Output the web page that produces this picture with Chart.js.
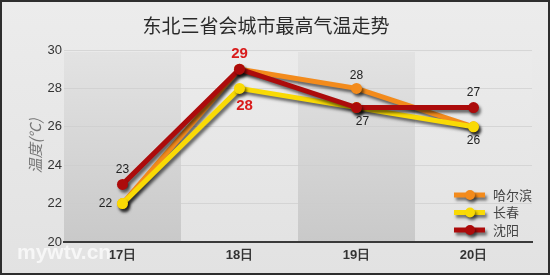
<!DOCTYPE html>
<html>
<head>
<meta charset="utf-8">
<script src="https://cdn.jsdelivr.net/npm/chart.js@4/dist/chart.umd.min.js"></script>
<style>
  html, body { margin: 0; padding: 0; background: #e6e6e6; }
  #wrap { width: 550px; height: 275px; }
</style>
</head>
<body>
<div id="wrap"><canvas id="tempChart" width="550" height="275"></canvas></div>
<script>
// data
const days = ['17日', '18日', '19日', '20日'];
const cities = ['哈尔滨', '长春', '沈阳'];
const harbin = [22, 29, 28, 26];
const changchun = [22, 28, 27, 26];
const shenyang = [23, 29, 27, 27];
const yMin = 20, yMax = 30, yStep = 2;

const colors = ['#f38b1c', '#f9da05', '#ac0b0b'];

// which values get a number drawn next to them (dataset, index, dx, dy, style)
const labelSpecs = [
    { ds: 2, i: 0, dx: 0, dy: -15, color: '#222', bold: false },
    { ds: 1, i: 0, dx: -17, dy: 0, color: '#222', bold: false },
    { ds: 2, i: 1, dx: 0, dy: -15, color: '#d91a1a', bold: true },
    { ds: 1, i: 1, dx: 5, dy: 17, color: '#d91a1a', bold: true },
    { ds: 0, i: 2, dx: 0, dy: -13, color: '#222', bold: false },
    { ds: 2, i: 2, dx: 6, dy: 14, color: '#222', bold: false },
    { ds: 2, i: 3, dx: 0, dy: -15, color: '#222', bold: false },
    { ds: 1, i: 3, dx: 0, dy: 14, color: '#222', bold: false }
];

const numFont = '"Liberation Sans", Arial, sans-serif';
const cjkFont = '"Noto Sans CJK SC", sans-serif';

const backdrop = {
    id: 'backdrop',
    beforeDraw(chart) {
        const { ctx, chartArea: a, scales: { x } } = chart;
        ctx.save();
        const bg = ctx.createLinearGradient(0, 0, 0, chart.height);
        bg.addColorStop(0, '#ececec');
        bg.addColorStop(1, '#e2e2e2');
        ctx.fillStyle = bg;
        ctx.fillRect(0, 0, chart.width, chart.height);

        const w = (a.right - a.left) / days.length;
        for (let i = 0; i < days.length; i++) {
            const left = x.getPixelForValue(i) - w / 2;
            const g = ctx.createLinearGradient(0, a.top, 0, a.bottom);
            if (i % 2 === 0) {
                g.addColorStop(0, '#e3e3e3');
                g.addColorStop(1, '#c9c9c9');
            } else {
                g.addColorStop(0, '#ebebeb');
                g.addColorStop(1, '#e3e3e3');
            }
            ctx.fillStyle = g;
            ctx.fillRect(left, a.top + 2, w, a.bottom - a.top - 2);
        }
        ctx.restore();
    },
    beforeDatasetDraw(chart) {
        const ctx = chart.ctx;
        ctx.save();
        ctx.shadowColor = 'rgba(0,0,0,0.55)';
        ctx.shadowOffsetX = 2;
        ctx.shadowOffsetY = 3;
        ctx.shadowBlur = 3;
    },
    afterDatasetDraw(chart) {
        chart.ctx.restore();
    },
    afterDatasetsDraw(chart) {
        const ctx = chart.ctx;
        ctx.save();
        ctx.textAlign = 'center';
        ctx.textBaseline = 'middle';
        labelSpecs.forEach(s => {
            const pt = chart.getDatasetMeta(s.ds).data[s.i];
            const v = chart.data.datasets[s.ds].data[s.i];
            ctx.fillStyle = s.color;
            ctx.font = (s.bold ? 'bold 15px ' : '12px ') + numFont;
            ctx.fillText(String(v), pt.x + s.dx, pt.y + s.dy);
        });

        // legend in lower right of the plot
        chart.data.datasets.forEach((ds, k) => {
            const y = 195 + k * 17.5;
            ctx.save();
            ctx.shadowColor = 'rgba(0,0,0,0.5)';
            ctx.shadowOffsetX = 2;
            ctx.shadowOffsetY = 3;
            ctx.shadowBlur = 3;
            ctx.strokeStyle = ds.borderColor;
            ctx.lineWidth = 5;
            ctx.beginPath();
            ctx.moveTo(454, y);
            ctx.lineTo(485, y);
            ctx.stroke();
            ctx.fillStyle = ds.borderColor;
            ctx.beginPath();
            ctx.arc(470, y, 5, 0, Math.PI * 2);
            ctx.fill();
            ctx.restore();
            ctx.fillStyle = '#444';
            ctx.font = '13px ' + cjkFont;
            ctx.textAlign = 'left';
            ctx.fillText(ds.label, 493, y);
        });

        // watermark
        ctx.fillStyle = 'rgba(255,255,255,0.7)';
        ctx.font = 'bold 21px ' + numFont;
        ctx.textAlign = 'left';
        ctx.fillText('mywtv.cn', 17, 253);
        ctx.restore();
    },
    afterDraw(chart) {
        const ctx = chart.ctx;
        ctx.save();
        ctx.strokeStyle = '#2e2e2e';
        ctx.lineWidth = 3;
        ctx.strokeRect(0.5, 0.5, chart.width - 1, chart.height - 1);
        ctx.restore();
    }
};

function series(label, data, k, order) {
    return {
        label: label,
        data: data,
        borderColor: colors[k],
        backgroundColor: colors[k],
        borderWidth: 5,
        pointRadius: 5.5,
        pointHoverRadius: 5.5,
        pointBorderWidth: 0,
        tension: 0,
        order: order
    };
}

new Chart(document.getElementById('tempChart').getContext('2d'), {
    type: 'line',
    data: {
        labels: days,
        datasets: [
            series(cities[0], harbin, 0, 3),
            series(cities[1], changchun, 1, 2),
            series(cities[2], shenyang, 2, 1)
        ]
    },
    options: {
        responsive: false,
        animation: false,
        layout: { padding: { left: 0, right: 18, top: 0, bottom: 0 } },
        plugins: {
            legend: { display: false },
            tooltip: { enabled: false },
            title: {
                display: true,
                text: '东北三省会城市最高气温走势',
                color: '#2a2a2a',
                font: { family: cjkFont, size: 19, weight: 'normal', lineHeight: 1.2 },
                padding: { top: 14, bottom: 13.2 }
            }
        },
        scales: {
            x: {
                offset: true,
                grid: { display: false, drawTicks: false },
                border: { display: true, color: '#3a3a3a', width: 2 },
                ticks: {
                    color: '#333',
                    padding: 6,
                    font: { family: numFont, size: 13, weight: 'bold' }
                },
                afterFit(scale) { scale.height = 33; }
            },
            y: {
                min: yMin,
                max: yMax,
                ticks: {
                    stepSize: yStep,
                    color: '#333',
                    padding: 2,
                    font: { family: numFont, size: 13 }
                },
                grid: { color: 'rgba(205,205,205,0.7)', drawTicks: false, lineWidth: 1 },
                border: { display: false },
                title: {
                    display: true,
                    text: '温度(℃)',
                    color: '#777',
                    padding: { top: 26, bottom: 0 },
                    font: { family: cjkFont, size: 15, style: 'italic', lineHeight: 1.2 }
                },
                afterFit(scale) { scale.width = 64; }
            }
        }
    },
    plugins: [backdrop]
});
</script>
</body>
</html>
